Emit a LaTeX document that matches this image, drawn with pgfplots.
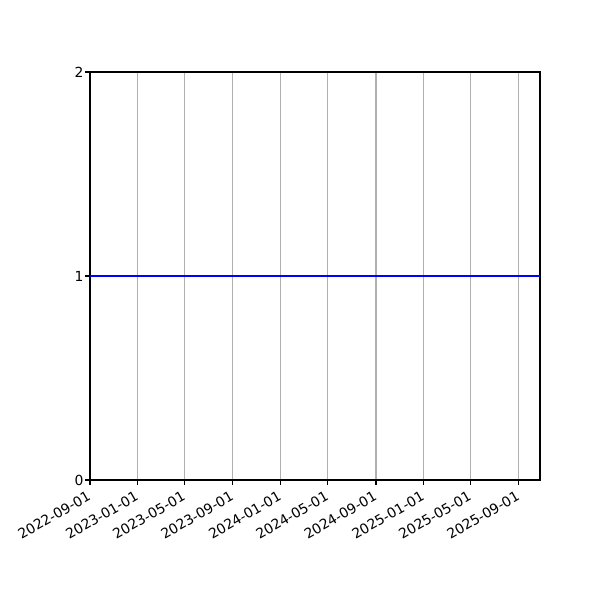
\documentclass[border=0pt]{standalone}
\usepackage{fontspec}
\setmainfont{DejaVu Sans}
\usepackage{pgfplots}
\pgfplotsset{compat=1.18}
\usetikzlibrary{calc}

\begin{document}
\fontsize{10}{12}\selectfont
\begin{tikzpicture}
\begin{axis}[
    name=ax,
    scale only axis,
    width=324pt, height=293.76pt,
    xmin=0, xmax=1150,
    ymin=0, ymax=2,
    ytick={0,1,2},
    xtick={0,122,242,365,487,608,731,853,973,1096},
    xticklabels={2022-09-01,2023-01-01,2023-05-01,2023-09-01,2024-01-01,2024-05-01,2024-09-01,2025-01-01,2025-05-01,2025-09-01},
    x tick label style={rotate=30, anchor=north east, inner sep=1pt, xshift=-3pt, yshift=-1pt},
    y tick label style={inner sep=1pt},
    xmajorgrids,
    grid style={color={rgb,255:red,176;green,176;blue,176}, line width=0.8pt},
    tick align=outside,
    tick pos=left,
    major tick length=3.5pt,
    tick style={black, line width=0.8pt},
    axis line style={line width=0.8pt},
    /pgf/number format/assume math mode=true,
    ticklabel style={font=\fontsize{10}{12}\selectfont},
]
\addplot[color=blue, line width=1.5pt] coordinates {(0,1) (1150,1)};
\end{axis}
\pgfresetboundingbox
\path[use as bounding box] ($(ax.south west)+(-64.8pt,-86.4pt)$) rectangle ($(ax.north east)+(43.2pt,51.84pt)$);
\end{tikzpicture}
\end{document}
